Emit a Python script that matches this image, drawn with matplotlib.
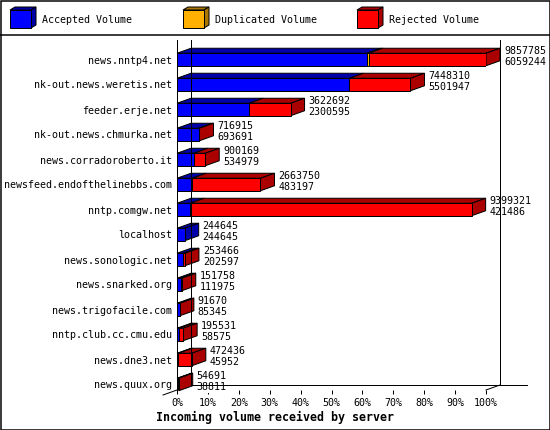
import matplotlib
matplotlib.use('Agg')
import matplotlib.pyplot as plt
from matplotlib.patches import Polygon, Rectangle
from matplotlib.lines import Line2D
from matplotlib.transforms import IdentityTransform
import numpy as np

# data
hosts = ['news.nntp4.net', 'nk-out.news.weretis.net', 'feeder.erje.net',
         'nk-out.news.chmurka.net', 'news.corradoroberto.it',
         'newsfeed.endofthelinebbs.com', 'nntp.comgw.net', 'localhost',
         'news.sonologic.net', 'news.snarked.org', 'news.trigofacile.com',
         'nntp.club.cc.cmu.edu', 'news.dne3.net', 'news.quux.org']
total = np.array([9857785, 7448310, 3622692, 716915, 900169, 2663750, 9399321,
                  244645, 253466, 151758, 91670, 195531, 472436, 54691])
accepted = np.array([6059244, 5501947, 2300595, 693691, 534979, 483197, 421486,
                     244645, 202597, 111975, 85345, 58575, 45952, 38811])
duplicated = np.array([55000, 0, 0, 0, 0, 0, 0, 0, 0, 0, 0, 0, 0, 0])
rejected = total - accepted - duplicated

series = ['Accepted Volume', 'Duplicated Volume', 'Rejected Volume']
front_cols = ['#0000ff', '#ffb000', '#ff0000']
dark_cols = ['#0000aa', '#aa7500', '#aa0000']

plt.rcParams['font.family'] = 'DejaVu Sans Mono'
plt.rcParams['font.size'] = 7.2

W, H = 550, 430
LW = 0.72          # one pixel at 100 dpi
DX, DY = 14, 5     # depth of the 3d effect in pixels

fig = plt.figure(figsize=(W / 100, H / 100), dpi=100)
ax = fig.add_axes([177 / W, 40 / H, 309 / W, 350 / H])
n = len(hosts)
ax.set_xlim(0, 100)
ax.set_ylim(n - 1 + 0.22, -0.78)

ident = IdentityTransform()


def disp(x, y):
    return ax.transData.transform((x, y))


def face(pts, col, z):
    p = Polygon(pts, closed=True, facecolor=col, edgecolor='black', lw=LW,
                transform=ident, zorder=z, clip_on=False)
    ax.add_patch(p)


# percentages of the largest total
vals = [accepted, duplicated, rejected]
scale = 100.0 / total.max()
half = 0.25

for i in range(n):
    left = 0.0
    last = None
    for k in range(3):
        w = vals[k][i] * scale
        if w <= 0:
            continue
        ax.barh(i, w, left=left, height=2 * half, color=front_cols[k],
                edgecolor='black', lw=LW, zorder=4)
        a = disp(left, i - half)
        b = disp(left + w, i - half)
        face([a, b, b + (DX, DY), a + (DX, DY)], dark_cols[k], 3)
        left += w
        last = k
    # side face
    t = disp(left, i - half)
    bt = disp(left, i + half)
    face([t, bt, bt + (DX, DY), t + (DX, DY)], dark_cols[last], 3)
    # value labels: total on top, accepted below
    for txt, dy in [(total[i], 5.5), (accepted[i], -5.5)]:
        ax.annotate(str(txt), xy=(left, i), xytext=(DX + 4, dy),
                    textcoords='offset pixels', va='baseline', ha='left',
                    zorder=6,
                    bbox=dict(boxstyle='square,pad=0.05', fc='white', ec='none'))

# axes styling
ax.set_yticks(range(n))
ax.set_yticklabels(hosts)
ax.tick_params(axis='y', length=0, pad=3.6)
ax.set_xticks(range(0, 101, 10))
ax.set_xticklabels([f'{v}%' for v in range(0, 101, 10)])
ax.tick_params(axis='x', direction='out', length=2.9, width=LW, pad=2.6)
for s in ['top', 'right', 'bottom']:
    ax.spines[s].set_visible(False)
ax.spines['left'].set_linewidth(LW)
ax.patch.set_alpha(0)

# back wall and floor lines
x0, yb = disp(0, ax.get_ylim()[0])
x1, yt = disp(100, ax.get_ylim()[1])
lines = [
    ([x0 + DX, x0 + DX], [yb + DY, yt]),
    ([x1 + DX, x1 + DX], [yb + DY, yt]),
    ([x0 + DX, x1 + DX + 27], [yb + DY, yb + DY]),
    ([x1, x1 + DX], [yb, yb + DY]),
    ([x0 - DX, x0], [yb - DY, yb]),
]
for xs, ys in lines:
    fig.add_artist(Line2D(xs, ys, color='black', lw=LW, transform=ident, zorder=1))


# legend with small 3d boxes
def box3d(x, y, col, dark):
    # x, y: top-left of front face in pixels from the top-left corner
    w, h, dx, dy = 21, 18, 5, 3
    X, Y = x, H - y
    pts_front = [(X, Y), (X + w, Y), (X + w, Y - h), (X, Y - h)]
    pts_top = [(X, Y), (X + dx, Y + dy), (X + w + dx, Y + dy), (X + w, Y)]
    pts_side = [(X + w, Y), (X + w + dx, Y + dy), (X + w + dx, Y - h + dy), (X + w, Y - h)]
    for pts, c in [(pts_top, dark), (pts_side, dark), (pts_front, col)]:
        fig.add_artist(Polygon(pts, closed=True, facecolor=c, edgecolor='black',
                               lw=LW, transform=ident))


legend_x = [10, 183, 357]
for k in range(3):
    box3d(legend_x[k], 10, front_cols[k], dark_cols[k])
    fig.text((legend_x[k] + 32) / W, 1 - 20 / H, series[k], va='center', ha='left')

# separator and border
fig.add_artist(Line2D([0, W], [H - 35, H - 35], color='black', lw=LW * 1.5,
                      transform=ident))
fig.add_artist(Rectangle((0.5, 0.5), W - 1, H - 1, fill=False, edgecolor='black',
                         lw=LW * 1.5, transform=ident))

fig.text(156 / W, 1 - 417 / H, 'Incoming volume received by server',
         fontsize=8.4, fontweight='bold', va='center', ha='left')

fig.savefig('out.png', dpi=100, facecolor='white')
